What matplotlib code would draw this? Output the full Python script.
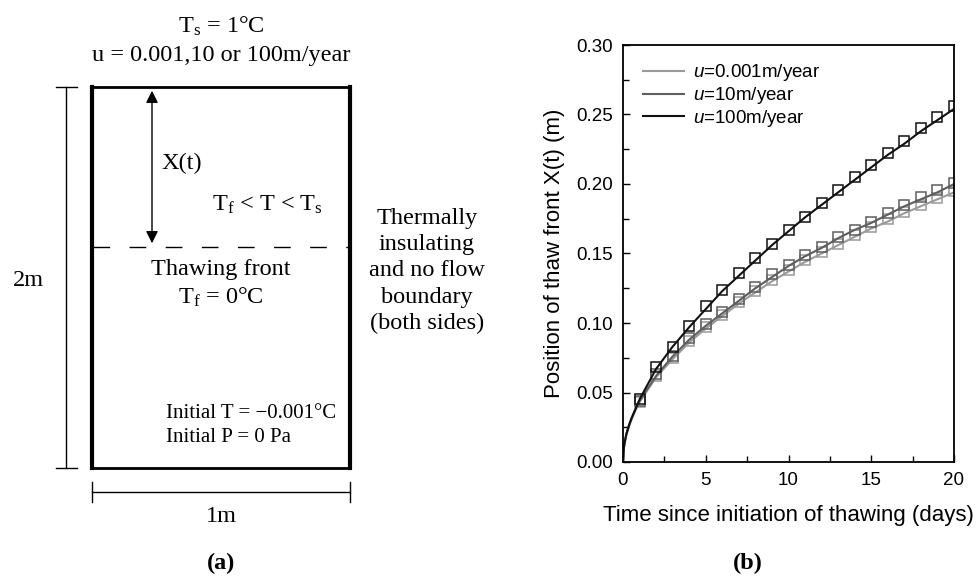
import matplotlib.pyplot as plt
import numpy as np
from matplotlib.ticker import MultipleLocator

plt.rcParams['mathtext.fontset'] = 'custom'
plt.rcParams['mathtext.it'] = 'Liberation Sans:italic'
plt.rcParams['mathtext.rm'] = 'Liberation Sans'

# simulated curves (lines) and analytical points (squares)
t_line = [0, 0.05, 0.1, 0.2, 0.35, 0.5, 0.75, 1, 2, 3, 4, 5, 6, 7, 8, 9, 10,
          11, 12, 13, 14, 15, 16, 17, 18, 19, 20]
x_line_0001 = [0, 0.010, 0.014, 0.019, 0.025, 0.030, 0.037, 0.043, 0.061, 0.074,
               0.086, 0.096, 0.105, 0.114, 0.122, 0.130, 0.137, 0.144, 0.150,
               0.156, 0.162, 0.168, 0.173, 0.179, 0.184, 0.189, 0.194]
x_line_10 = [0, 0.010, 0.014, 0.020, 0.026, 0.031, 0.038, 0.044, 0.062, 0.076,
             0.088, 0.098, 0.107, 0.116, 0.125, 0.133, 0.141, 0.148, 0.154,
             0.161, 0.167, 0.172, 0.178, 0.184, 0.189, 0.194, 0.200]
x_line_100 = [0, 0.010, 0.014, 0.020, 0.026, 0.031, 0.038, 0.045, 0.067, 0.083,
              0.097, 0.110, 0.123, 0.134, 0.145, 0.156, 0.166, 0.176, 0.185,
              0.194, 0.203, 0.212, 0.221, 0.229, 0.238, 0.246, 0.254]

t_pts = list(range(1, 21))
x_pts_0001 = [0.043, 0.062, 0.075, 0.087, 0.097, 0.106, 0.115, 0.123, 0.131, 0.138,
              0.145, 0.151, 0.157, 0.163, 0.169, 0.175, 0.180, 0.185, 0.190, 0.195]
x_pts_10 = [0.044, 0.063, 0.076, 0.089, 0.099, 0.108, 0.117, 0.126, 0.135, 0.142,
            0.149, 0.155, 0.162, 0.167, 0.173, 0.179, 0.185, 0.191, 0.196, 0.201]
x_pts_100 = [0.045, 0.068, 0.083, 0.098, 0.112, 0.124, 0.136, 0.147, 0.157, 0.167,
             0.176, 0.186, 0.196, 0.205, 0.214, 0.222, 0.231, 0.240, 0.248, 0.256]

labels = ['$u$=0.001m/year', '$u$=10m/year', '$u$=100m/year']
colors = ['#9a9a9a', '#5e5e5e', '#111111']

fig = plt.figure(figsize=(9.76, 5.76), dpi=100)

# (a) schematic, drawn in pixel coordinates
ax0 = fig.add_axes([0, 0, 1, 1])
ax0.set_xlim(0, 976)
ax0.set_ylim(576, 0)
ax0.axis('off')

serif = 'Liberation Serif'
fs = 17.5
k = 'black'
ax0.plot([92, 92], [87, 468], color=k, lw=3)
ax0.plot([350, 350], [87, 468], color=k, lw=3)
ax0.plot([92, 350], [87, 87], color=k, lw=2)
ax0.plot([92, 350], [468, 468], color=k, lw=2)
ax0.plot([93, 349], [247, 247], color=k, lw=1, dashes=(12, 14))
ax0.annotate('', xy=(152, 88), xytext=(152, 246),
             arrowprops=dict(arrowstyle='<|-|>', color=k, lw=1, mutation_scale=18))
# dimension lines
ax0.plot([66, 66], [87, 468], color=k, lw=1)
ax0.plot([56, 77], [87, 87], color=k, lw=1)
ax0.plot([56, 77], [468, 468], color=k, lw=1)
ax0.plot([92, 350], [492, 492], color=k, lw=1)
ax0.plot([92, 92], [482, 502], color=k, lw=1)
ax0.plot([350, 350], [482, 502], color=k, lw=1)

ax0.text(221, 26, r'T$_\mathregular{s}$ = 1°C', family=serif, size=fs, ha='center', va='center')
ax0.text(221, 55, 'u = 0.001,10 or 100m/year', family=serif, size=fs, ha='center', va='center')
ax0.text(161, 163, 'X(t)', family=serif, size=fs, ha='left', va='center')
ax0.text(267, 205, r'T$_\mathregular{f}$ < T < T$_\mathregular{s}$', family=serif, size=fs,
         ha='center', va='center')
ax0.text(221, 270, 'Thawing front', family=serif, size=fs, ha='center', va='center')
ax0.text(221, 297, r'T$_\mathregular{f}$ = 0°C', family=serif, size=fs, ha='center', va='center')
ax0.text(166, 414, 'Initial T = \u22120.001°C', family=serif, size=15, ha='left', va='center')
ax0.text(166, 438, 'Initial P = 0 Pa', family=serif, size=15, ha='left', va='center')
ax0.text(28, 281, '2m', family=serif, size=fs, ha='center', va='center')
ax0.text(221, 516, '1m', family=serif, size=fs, ha='center', va='center')
ax0.text(427, 271, 'Thermally\ninsulating\nand no flow\nboundary\n(both sides)', family=serif,
         size=fs, ha='center', va='center', linespacing=1.32)
ax0.text(221, 563, '(a)', family=serif, size=fs, ha='center', va='center', weight='bold')
ax0.text(748, 563, '(b)', family=serif, size=fs, ha='center', va='center', weight='bold')

# (b) thaw front position
ax = fig.add_axes([623 / 976, 1 - 462 / 576, 331 / 976, 417 / 576])
for xl, xp, lab, c in zip([x_line_0001, x_line_10, x_line_100],
                          [x_pts_0001, x_pts_10, x_pts_100], labels, colors):
    ax.plot(t_line, xl, color=c, lw=1.5, label=lab)
    ax.plot(t_pts, xp, ls='none', marker='s', ms=6.5, mfc='none', mec=c, mew=1.1)

ax.set_xlim(0, 20)
ax.set_ylim(0, 0.30)
ax.xaxis.set_major_locator(MultipleLocator(5))
ax.xaxis.set_minor_locator(MultipleLocator(2.5))
ax.yaxis.set_major_locator(MultipleLocator(0.05))
ax.yaxis.set_minor_locator(MultipleLocator(0.025))
ax.yaxis.set_major_formatter(plt.FormatStrFormatter('%.2f'))
ax.tick_params(which='both', direction='in', labelsize=13.5)
ax.tick_params(which='major', length=5, width=1, pad=7)
ax.tick_params(which='minor', length=4, width=1)
for lab in ax.get_xticklabels() + ax.get_yticklabels():
    lab.set_family('Liberation Sans')
for s in ax.spines.values():
    s.set_linewidth(1.3)
ax.set_xlabel('Time since initiation of thawing (days)', family='Liberation Sans',
              size=16, labelpad=12)
ax.set_ylabel('Position of thaw front X(t) (m)', family='Liberation Sans', size=16,
              labelpad=8)
leg = ax.legend(loc='upper left', frameon=False, prop={'family': 'Liberation Sans', 'size': 13.5},
                handlelength=2.2, handletextpad=0.5, labelspacing=0.1,
                borderaxespad=0.3, bbox_to_anchor=(0.02, 0.99))

fig.savefig('out.png', dpi=100)
